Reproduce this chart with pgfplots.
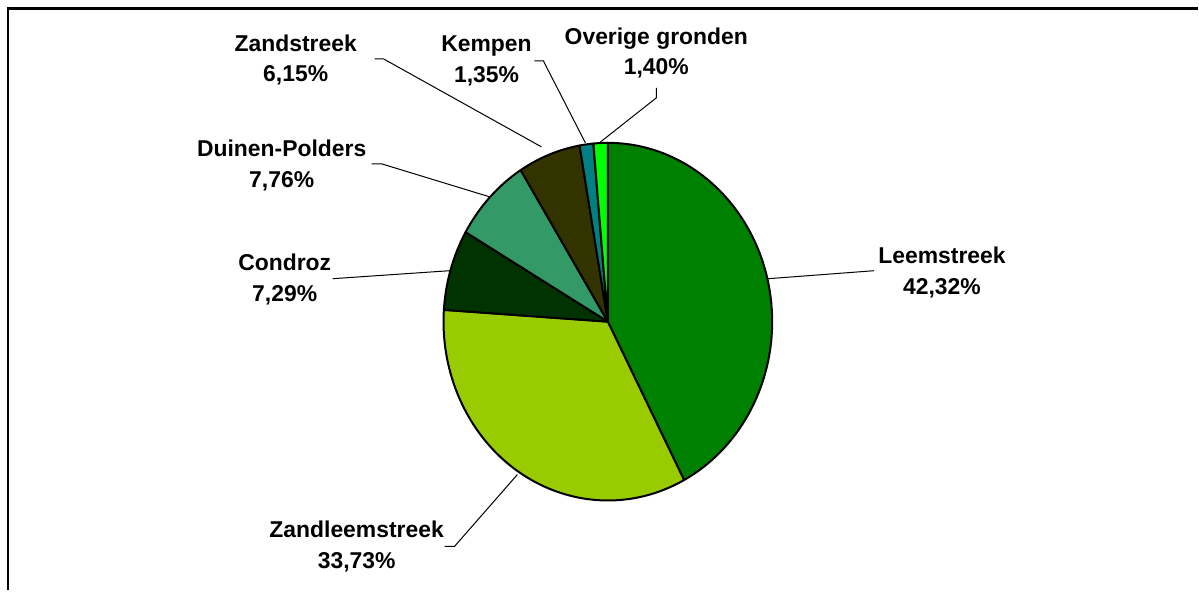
\documentclass[border=0pt]{standalone}
\usepackage{fontspec}
\setmainfont{Liberation Sans}
\usepackage{pgfplots}
\pgfplotsset{compat=1.18}

\definecolor{cLeem}{HTML}{008000}
\definecolor{cZandleem}{HTML}{99CC00}
\definecolor{cCondroz}{HTML}{003300}
\definecolor{cDuinen}{HTML}{339966}
\definecolor{cZand}{HTML}{333300}
\definecolor{cKempen}{HTML}{008080}
\definecolor{cOverig}{HTML}{00FF00}

% pie centre (axis units = pixels of the reference), radii 82.25bp x 89.5bp
\def\cx{608.5}
\def\cy{322}

\tikzset{lbl/.style={font=\bfseries\fontsize{11.5}{15.5}\selectfont, align=center},
         lead/.style={line width=0.5bp}}

\begin{document}
\begin{tikzpicture}
\begin{axis}[
    scale only axis,
    width=599.5bp, height=295.5bp,
    xmin=0, xmax=1199, ymin=0, ymax=591,
    y dir=reverse,
    hide axis,
    clip=false,
]
\path (axis cs:0,0) rectangle (axis cs:1199,591);
% frame (top and left edges only)
\draw[line width=1.3bp] (axis cs:8,591) -- (axis cs:8,8.5) -- (axis cs:1199,8.5);

% wedges, clockwise from 12 o'clock: value (%) / colour
\pgfplotsextra{%
  \xdef\cum{0}%
  \foreach \v/\c in {42.32/cLeem, 33.73/cZandleem, 7.29/cCondroz,
                     7.76/cDuinen, 6.15/cZand, 1.35/cKempen, 1.40/cOverig}{%
    \pgfmathsetmacro\sa{90-3.6*\cum}%
    \pgfmathsetmacro\newcum{\cum+\v}%
    \xdef\cum{\newcum}%
    \pgfmathsetmacro\sb{90-3.6*\cum}%
    \fill[\c,draw=black,line width=1bp,line join=round]
      (axis cs:\cx,\cy) -- +(\sa:82.25bp and 89.5bp)
      arc[start angle=\sa,end angle=\sb,x radius=82.25bp,y radius=89.5bp] -- cycle;
  }%
}

% leader lines
\draw[lead] (axis cs:875,271) -- (axis cs:769,279);
\draw[lead] (axis cs:445,547) -- (axis cs:455,547) -- (axis cs:518,475);
\draw[lead] (axis cs:333,279) -- (axis cs:450,271);
\draw[lead] (axis cs:372,164) -- (axis cs:382,164) -- (axis cs:490,197);
\draw[lead] (axis cs:375,59) -- (axis cs:384,59) -- (axis cs:542,147);
\draw[lead] (axis cs:535,61) -- (axis cs:544,61) -- (axis cs:586,143);
\draw[lead] (axis cs:657,88) -- (axis cs:657,98) -- (axis cs:600,143);

% labels
\node[lbl] at (axis cs:943,272.5) {Leemstreek\\42,32\%};
\node[lbl] at (axis cs:357,547) {Zandleemstreek\\33,73\%};
\node[lbl] at (axis cs:285,280) {Condroz\\7,29\%};
\node[lbl] at (axis cs:282,166) {Duinen-Polders\\7,76\%};
\node[lbl] at (axis cs:296,60) {Zandstreek\\6,15\%};
\node[lbl] at (axis cs:487,61) {Kempen\\1,35\%};
\node[lbl] at (axis cs:657,53) {Overige gronden\\1,40\%};
\end{axis}
\end{tikzpicture}
\end{document}
